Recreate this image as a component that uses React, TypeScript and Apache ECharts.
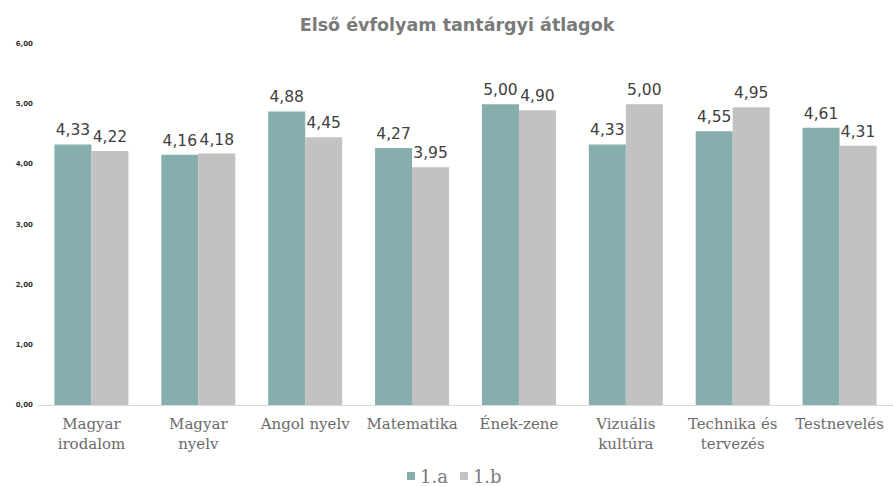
import React, { useEffect, useRef } from "react";
import * as echarts from "echarts";

const categories = [
  "Magyar\nirodalom",
  "Magyar\nnyelv",
  "Angol nyelv",
  "Matematika",
  "Ének-zene",
  "Vizuális\nkultúra",
  "Technika és\ntervezés",
  "Testnevelés",
];
const seriesNames = ["1.a", "1.b"];
const valuesA = [4.33, 4.16, 4.88, 4.27, 5.0, 4.33, 4.55, 4.61];
const valuesB = [4.22, 4.18, 4.45, 3.95, 4.9, 5.0, 4.95, 4.31];
const title = "Első évfolyam tantárgyi átlagok";

export default function App() {
  const ref = useRef<HTMLDivElement>(null);
  useEffect(() => {
    if (!ref.current) return;
    const chart = echarts.init(ref.current, undefined, { renderer: "svg" });
    const fmt = (v: number) => v.toFixed(2).replace(".", ",");
    const labelStyle = {
      show: true,
      position: "top" as const,
      distance: 6,
      fontFamily: "DejaVu Sans",
      fontSize: 15.5,
      color: "#404040",
      formatter: (p: any) => fmt(p.value),
    };
    chart.setOption({
      animation: false,
      backgroundColor: "#ffffff",
      title: {
        text: title,
        left: 452,
        textAlign: "center",
        top: 11,
        textStyle: {
          fontFamily: "DejaVu Sans",
          fontWeight: "bold",
          fontSize: 17.5,
          color: "#7a7a7a",
        },
      },
      legend: {
        data: seriesNames,
        left: 402,
        top: 462,
        itemWidth: 8,
        itemHeight: 8,
        itemGap: 12,
        icon: "rect",
        textStyle: {
          fontFamily: "DejaVu Serif",
          fontSize: 18,
          color: "#7a7a7a",
        },
      },
      grid: { left: 38, right: 0, top: 44, bottom: 81 },
      xAxis: {
        type: "category",
        data: categories,
        axisLine: { lineStyle: { color: "#d9d9d9" } },
        axisTick: { show: false },
        axisLabel: {
          fontFamily: "DejaVu Serif",
          fontSize: 15,
          color: "#6b6b6b",
          lineHeight: 20,
          margin: 9,
          interval: 0,
        },
      },
      yAxis: {
        type: "value",
        min: 0,
        max: 6,
        interval: 1,
        splitLine: { show: false },
        axisLine: { show: false },
        axisTick: { show: false },
        axisLabel: {
          fontFamily: "DejaVu Sans",
          fontSize: 7,
          fontWeight: "bold",
          color: "#333333",
          margin: 5,
          formatter: (v: number) => v.toFixed(2).replace(".", ","),
        },
      },
      series: [
        {
          name: seriesNames[0],
          type: "bar",
          data: valuesA,
          barWidth: 37,
          barGap: "0%",
          itemStyle: { color: "#86aeac" },
          label: labelStyle,
        },
        {
          name: seriesNames[1],
          type: "bar",
          data: valuesB,
          barWidth: 37,
          itemStyle: { color: "#c2c2c2" },
          label: labelStyle,
        },
      ],
    });
    return () => chart.dispose();
  }, []);
  return (
    <div
      ref={ref}
      style={{ position: "fixed", left: 0, top: 0, width: 893, height: 486 }}
    />
  );
}
